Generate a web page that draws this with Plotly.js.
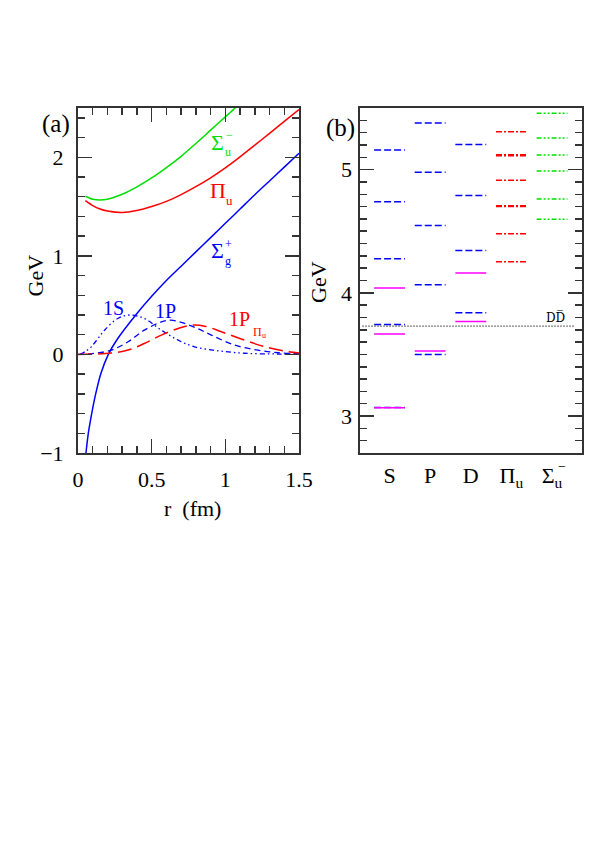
<!DOCTYPE html>
<html>
<head>
<meta charset="utf-8">
<script src="https://cdn.plot.ly/plotly-3.0.1.min.js"></script>
<style>html,body{margin:0;padding:0;background:#fff;}#chart{width:599px;height:847px;}</style>
</head>
<body>
<div id="chart"></div>
<script>
// ---------- Panel (a): potentials and radial wavefunctions ----------
const rSigmaG = [0.054,0.07,0.093,0.12,0.156,0.206,0.263,0.4,0.5,0.6,0.7,0.8,0.9,1.0,1.1,1.2,1.3,1.4,1.5];
const vSigmaG = [-1.0,-0.80,-0.60,-0.40,-0.19,0.0,0.146,0.415,0.59,0.75,0.895,1.04,1.185,1.33,1.475,1.62,1.76,1.90,2.04];

const rPiU = [0.05,0.1,0.15,0.2,0.3,0.4,0.5,0.6,0.7,0.8,0.9,1.0,1.1,1.2,1.3,1.4,1.5];
const vPiU = [1.56,1.51,1.475,1.455,1.44,1.46,1.50,1.553,1.622,1.702,1.792,1.893,2.005,2.123,2.243,2.364,2.485];

const rSigmaU = [0.05,0.1,0.15,0.2,0.3,0.4,0.5,0.6,0.7,0.8,0.9,1.0,1.066,1.1];
const vSigmaU = [1.605,1.575,1.567,1.575,1.625,1.70,1.79,1.895,2.01,2.14,2.275,2.41,2.5,2.555];

const r1S = [0.014,0.05,0.09,0.135,0.18,0.27,0.35,0.45,0.566,0.68,0.79,0.95,1.13,1.36,1.5];
const w1S = [0,0.03,0.077,0.16,0.246,0.365,0.40,0.365,0.246,0.145,0.077,0.037,0.012,0.004,0.002];

const r1P = [0,0.11,0.226,0.34,0.45,0.566,0.63,0.70,0.80,0.905,1.064,1.22,1.36,1.5];
const w1P = [0,0.01,0.044,0.128,0.246,0.33,0.347,0.325,0.27,0.196,0.094,0.044,0.017,0.005];

const r1PPi = [0,0.226,0.34,0.45,0.566,0.68,0.77,0.86,0.973,1.13,1.27,1.43,1.5];
const w1PPi = [0,0.014,0.044,0.111,0.196,0.263,0.297,0.287,0.23,0.145,0.077,0.027,0.015];

// ---------- Panel (b): spectrum levels (GeV) ----------
const columns = ["S","P","D","Π<sub>u</sub>","Σ<sub>u</sub>"];
const sMagenta = [3.068,3.665,4.04];
const sBlue    = [3.07,3.743,4.276,4.74,5.16];
const pMagenta = [3.527];
const pBlue    = [3.50,4.065,4.546,4.979,5.379];
const dMagenta = [3.767,4.16];
const dBlue    = [3.838,4.343,4.789,5.203];
const piLevels = [4.252,4.479,4.70,4.706,4.914,5.113,5.121,5.308];
const sigLevels = [4.598,4.762,4.989,5.119,5.257,5.457];
const ddThreshold = 3.73;

const BLUE = "#0000ff", RED = "#ff0000", GREEN = "#00e000", MAG = "#ff00ff";
const FONT = "Liberation Serif, Times New Roman, serif";

function levelTrace(col, vals, color, dash){
  const xs = [], ys = [];
  vals.forEach(v => { xs.push(col-0.38, col+0.38, null); ys.push(v, v, null); });
  return {x: xs, y: ys, xaxis: "x2", yaxis: "y2", mode: "lines", type: "scatter",
          line: {color: color, width: 1.5, dash: dash}, hoverinfo: "skip", showlegend: false};
}

const dashed = "7px,3px";
const dashDot = "6px,2px,2px,2px";
const dashDotDot = "5px,2px,2px,2px,2px,2px";

const traces = [
  {x: rSigmaU, y: vSigmaU, mode:"lines", line:{color:GREEN, width:1.5, shape:"spline", smoothing:0.8}},
  {x: rPiU, y: vPiU, mode:"lines", line:{color:RED, width:1.5, shape:"spline", smoothing:0.8}},
  {x: rSigmaG, y: vSigmaG, mode:"lines", line:{color:BLUE, width:1.5, shape:"spline", smoothing:0.8}},
  {x: r1S, y: w1S, mode:"lines", line:{color:BLUE, width:1.3, dash:"5px,3px,1.5px,3px,1.5px,3px", shape:"spline"}},
  {x: r1P, y: w1P, mode:"lines", line:{color:BLUE, width:1.3, dash:"6px,4px", shape:"spline"}},
  {x: r1PPi, y: w1PPi, mode:"lines", line:{color:RED, width:1.5, dash:"14px,6px", shape:"spline"}},
  levelTrace(1, sBlue, BLUE, dashed),
  levelTrace(1, sMagenta, MAG, "solid"),
  levelTrace(2, pBlue, BLUE, dashed),
  levelTrace(2, pMagenta, MAG, "solid"),
  levelTrace(3, dBlue, BLUE, dashed),
  levelTrace(3, dMagenta, MAG, "solid"),
  levelTrace(4, piLevels, RED, dashDot),
  levelTrace(5, sigLevels, GREEN, dashDotDot)
].map(t => Object.assign({type:"scatter", showlegend:false, hoverinfo:"skip"}, t));

const axisCommon = {
  showline: true, linecolor: "#333", linewidth: 2, mirror: "ticks",
  ticks: "inside", ticklen: 14, tickwidth: 1.5, tickcolor: "#333",
  showgrid: false, zeroline: false, fixedrange: true,
  tickfont: {family: FONT, size: 22, color: "#000"}
};

const px = v => v/599, py = v => 1 - v/847;

function ann(text, x, y, opts){
  return Object.assign({text: text, x: x, y: y, xref: "paper", yref: "paper",
    showarrow: false, xanchor: "center", yanchor: "middle",
    font: {family: FONT, size: 22, color: "#000"}}, opts || {});
}

const annotations = [
  ann("(a)", px(56), py(124), {font:{family:FONT,size:25,color:"#000"}}),
  ann("(b)", px(341), py(128), {font:{family:FONT,size:25,color:"#000"}}),
  ann("GeV", px(34.5), py(276), {textangle:-90}),
  ann("GeV", px(318), py(282), {textangle:-90}),
  ann("r  (fm)", px(192), py(508)),
  // curve labels in data coordinates of panel (a)
  ann("Σ", 0.945, 2.154, {xref:"x", yref:"y", font:{family:FONT,size:22,color:GREEN}}),
  ann("−", 1.025, 2.225, {xref:"x", yref:"y", font:{family:FONT,size:12,color:GREEN}}),
  ann("u", 1.02, 2.055, {xref:"x", yref:"y", font:{family:FONT,size:12,color:GREEN}}),
  ann("Π", 0.947, 1.664, {xref:"x", yref:"y", font:{family:FONT,size:22,color:RED}}),
  ann("u", 1.029, 1.563, {xref:"x", yref:"y", font:{family:FONT,size:13,color:RED}}),
  ann("Σ", 0.947, 1.057, {xref:"x", yref:"y", font:{family:FONT,size:22,color:BLUE}}),
  ann("+", 1.02, 1.12, {xref:"x", yref:"y", font:{family:FONT,size:12,color:BLUE}}),
  ann("g", 1.02, 0.95, {xref:"x", yref:"y", font:{family:FONT,size:12,color:BLUE}}),
  ann("1S", 0.241, 0.474, {xref:"x", yref:"y", font:{family:FONT,size:20,color:BLUE}}),
  ann("1P", 0.591, 0.439, {xref:"x", yref:"y", font:{family:FONT,size:20,color:BLUE}}),
  ann("1P", 1.093, 0.363, {xref:"x", yref:"y", font:{family:FONT,size:20,color:RED}}),
  ann("Π", 1.215, 0.226, {xref:"x", yref:"y", font:{family:FONT,size:12,color:RED}}),
  ann("u", 1.262, 0.19, {xref:"x", yref:"y", font:{family:FONT,size:8,color:RED}}),
  // panel (b)
  ann("−", 5, py(466), {xref:"x2", xshift:10, font:{family:FONT,size:14,color:"#000"}}),
  ann("DD\u0305", px(555.5), ddThreshold + 0.067, {yref:"y2", font:{family:"DejaVu Serif, serif",size:12,color:"#000"}})
];

const layout = {
  width: 599, height: 847,
  margin: {l:0, r:0, t:0, b:0},
  paper_bgcolor: "#fff", plot_bgcolor: "#fff",
  showlegend: false,
  xaxis: Object.assign({}, axisCommon, {
    domain: [px(78), px(299)], range: [0, 1.5], anchor: "y",
    tickvals: [0, 0.5, 1, 1.5], ticktext: ["0","0.5","1","1.5"],
    minor: {dtick: 0.1, ticklen: 7, ticks: "inside", tickwidth: 1.5, tickcolor: "#333"},
    ticklabelstandoff: 6
  }),
  yaxis: Object.assign({}, axisCommon, {
    domain: [py(453), py(108)], range: [-1, 2.5], anchor: "x",
    tickvals: [-1, 0, 1, 2], ticktext: ["−1","0","1","2"],
    minor: {dtick: 0.2, ticklen: 7, ticks: "inside", tickwidth: 1.5, tickcolor: "#333"},
    ticklabelstandoff: 8
  }),
  xaxis2: Object.assign({}, axisCommon, {
    domain: [px(360.3), px(581.7)], range: [0.28, 5.73], anchor: "y2",
    ticks: "", mirror: true,
    tickvals: [1,2,3,4,5], ticktext: columns,
    ticklabelstandoff: 2
  }),
  yaxis2: Object.assign({}, axisCommon, {
    domain: [py(453), py(108)], range: [2.7, 5.5], anchor: "x2",
    tickvals: [3, 4, 5], ticktext: ["3","4","5"],
    minor: {dtick: 0.1, ticklen: 7, ticks: "inside", tickwidth: 1.5, tickcolor: "#333"},
    ticklabelstandoff: 2
  }),
  shapes: [
    {type:"line", xref:"x2 domain", yref:"y2", x0:0.01, x1:0.97, y0:ddThreshold, y1:ddThreshold,
     line:{color:"#000", width:1.2, dash:"1px,2px"}}
  ],
  annotations: annotations
};

Plotly.newPlot("chart", traces, layout, {staticPlot: true, displayModeBar: false});
</script>
</body>
</html>
